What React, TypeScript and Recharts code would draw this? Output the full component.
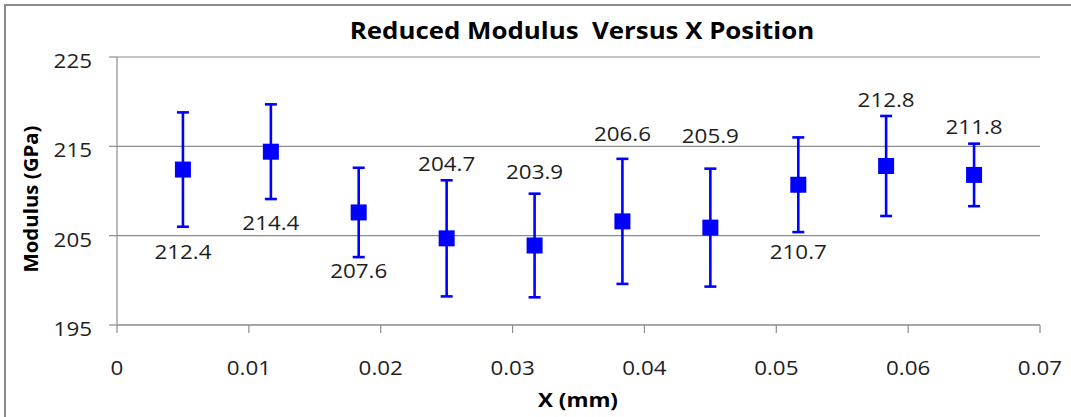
import { ScatterChart, Scatter, XAxis, YAxis, CartesianGrid, ErrorBar } from "recharts";

const xPositions = [0.005, 0.01167, 0.01833, 0.025, 0.03167, 0.03833, 0.045, 0.05167, 0.05833, 0.065];
const modulus = [212.4, 214.4, 207.6, 204.7, 203.9, 206.6, 205.9, 210.7, 212.8, 211.8];
const modulusError = [6.4, 5.3, 5.0, 6.5, 5.8, 7.0, 6.6, 5.3, 5.6, 3.5];
const xTicks = [0, 0.01, 0.02, 0.03, 0.04, 0.05, 0.06, 0.07];
const yTicks = [195, 205, 215, 225];

// where each value label sits, px from the marker centre (negative = above)
const labelOffsets = [81, 70, 58, -75, -74, -88, -93, 66, -67, -49];

const data = xPositions.map((x, i) => ({
  x,
  y: modulus[i],
  err: modulusError[i],
  idx: i,
}));

const FONT = "'Open Sans', sans-serif";
const GREY = "#8c8c8c";
const BLUE = "#0000FF";
const TEXT = "#1e1e1e";
const STRETCH = 1.12;

function XTick(props: any) {
  const { x, y, payload } = props;
  return (
    <text
      transform={`translate(${x},${y + 34}) scale(${STRETCH},1)`}
      textAnchor="middle"
      dominantBaseline="central"
      fontFamily={FONT}
      fontSize={20}
      fill={TEXT}
    >
      {String(payload.value)}
    </text>
  );
}

function YTick(props: any) {
  const { x, y, payload } = props;
  return (
    <text
      transform={`translate(${x - 17},${y + 3}) scale(${STRETCH},1)`}
      textAnchor="end"
      dominantBaseline="central"
      fontFamily={FONT}
      fontSize={20}
      fill={TEXT}
    >
      {String(payload.value)}
    </text>
  );
}

function Marker(props: any) {
  const { cx, cy, payload } = props;
  if (cx == null || cy == null) return null;
  const dy = labelOffsets[payload.idx];
  return (
    <g>
      <rect x={cx - 8} y={cy - 8} width={16} height={16} fill={BLUE} />
      <text
        transform={`translate(${cx},${cy + dy}) scale(${STRETCH},1)`}
        textAnchor="middle"
        dominantBaseline="central"
        fontFamily={FONT}
        fontSize={20}
        fill={TEXT}
      >
        {payload.y.toFixed(1)}
      </text>
    </g>
  );
}

export default function App() {
  return (
    <div
      style={{
        position: "absolute",
        left: 0,
        top: 0,
        width: 1071,
        height: 417,
        background: "#fff",
        overflow: "hidden",
      }}
    >
      <ScatterChart
        width={1071}
        height={417}
        margin={{ top: 57, right: 31, bottom: 0, left: 0 }}
      >
        <CartesianGrid vertical={false} stroke={GREY} strokeWidth={1.2} />

        <XAxis
          type="number"
          dataKey="x"
          domain={[0, 0.07]}
          ticks={xTicks}
          interval={0}
          height={92}
          tickSize={8}
          tickMargin={0}
          axisLine={{ stroke: GREY, strokeWidth: 1.2 }}
          tickLine={{ stroke: GREY, strokeWidth: 1.2 }}
          tick={<XTick />}
        />

        <YAxis
          type="number"
          dataKey="y"
          domain={[195, 225]}
          ticks={yTicks}
          interval={0}
          width={117}
          tickSize={8}
          tickMargin={0}
          axisLine={{ stroke: GREY, strokeWidth: 1.2 }}
          tickLine={{ stroke: GREY, strokeWidth: 1.2 }}
          tick={<YTick />}
        />

        <Scatter
          data={data}
          fill={BLUE}
          shape={<Marker />}
          isAnimationActive={false}
        >
          <ErrorBar
            dataKey="err"
            direction="y"
            width={6}
            stroke={BLUE}
            strokeWidth={2.6}
            isAnimationActive={false}
          />
        </Scatter>
      </ScatterChart>

      <div
        style={{
          position: "absolute",
          left: 4,
          top: 4,
          right: -10,
          bottom: -10,
          borderTop: `2px solid ${GREY}`,
          borderLeft: `2px solid ${GREY}`,
          pointerEvents: "none",
        }}
      />

      <div
        style={{
          position: "absolute",
          left: 281.5,
          top: 17,
          width: 600,
          height: 26,
          lineHeight: "26px",
          textAlign: "center",
          fontFamily: FONT,
          fontWeight: 700,
          fontSize: 23.5,
          color: "#000",
          whiteSpace: "pre",
          transform: `scaleX(1.1)`,
        }}
      >
        Reduced Modulus  Versus X Position
      </div>

      <div
        style={{
          position: "absolute",
          left: 31 - 150,
          top: 199 - 13,
          width: 300,
          height: 26,
          lineHeight: "26px",
          textAlign: "center",
          fontFamily: FONT,
          fontWeight: 700,
          fontSize: 20,
          color: "#000",
          transform: `rotate(-90deg) scaleX(1.02)`,
        }}
      >
        Modulus (GPa)
      </div>

      <div
        style={{
          position: "absolute",
          left: 578 - 150,
          top: 400 - 13,
          width: 300,
          height: 26,
          lineHeight: "26px",
          textAlign: "center",
          fontFamily: FONT,
          fontWeight: 700,
          fontSize: 20,
          color: "#000",
          transform: `scaleX(${STRETCH})`,
        }}
      >
        X (mm)
      </div>
    </div>
  );
}
